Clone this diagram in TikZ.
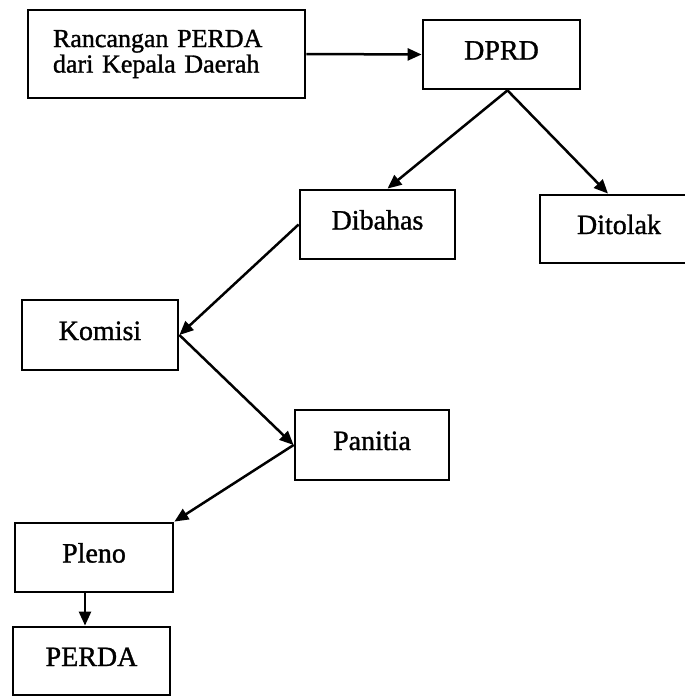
\documentclass[tikz,border=0pt]{standalone}
\usepackage{fontspec}
\setmainfont{Liberation Serif}[BoldFont={Liberation Serif}, BoldFeatures={FakeBold=1.2}]
\usetikzlibrary{arrows.meta}
\begin{document}
\begin{tikzpicture}[x=1pt,y=-1pt,
  box/.style={draw, line width=2.8pt, rectangle, inner sep=0pt},
  word/.style={box, font=\fontsize{28}{32}\selectfont\bfseries, text height=20pt, text depth=10pt},
  arr/.style={line width=2.5pt, -{Triangle[length=14pt,width=12pt]}}]
\useasboundingbox (0,0) rectangle (685,696);
\node[box, minimum width=277pt, minimum height=88pt, text width=227pt, inner xsep=25pt,
      align=left, font=\fontsize{26}{25.5}\selectfont\bfseries] (rancangan) at (166.5,54) {Rancangan PERDA\\dari Kepala Daerah};
\node[word, minimum width=157pt, minimum height=69pt] (dprd) at (501.5,54.5) {DPRD};
\node[word, minimum width=155pt, minimum height=69pt] (dibahas) at (377.5,224.5) {Dibahas};
\node[word, minimum width=158pt, minimum height=68pt] (ditolak) at (619,229) {Ditolak};
\node[word, minimum width=156pt, minimum height=70pt] (komisi) at (100,335) {Komisi};
\node[word, minimum width=154pt, minimum height=70pt] (panitia) at (372,445) {Panitia};
\node[word, minimum width=158pt, minimum height=69pt] (pleno) at (94,557.5) {Pleno};
\node[word, minimum width=157pt, minimum height=68pt] (perda) at (91.5,661) {PERDA};
\coordinate (split) at ([xshift=6pt]dprd.south);
\draw[arr] (rancangan.east) -- (dprd.west);
\draw[arr] (split) -- ([xshift=10pt]dibahas.north);
\draw[arr] (split) -- ([xshift=-11pt]ditolak.north);
\draw[arr] (dibahas.west) -- (komisi.east);
\draw[arr] (komisi.east) -- (panitia.west);
\draw[arr] (panitia.west) -- (pleno.north east);
\draw[arr] ([xshift=-9pt]pleno.south) -- ([xshift=-9pt]pleno.south |- perda.north);
\end{tikzpicture}
\end{document}
